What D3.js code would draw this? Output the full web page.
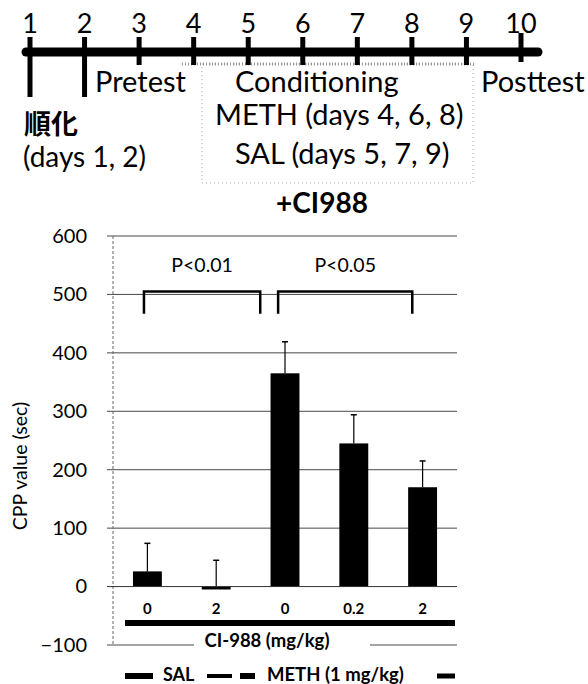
<!DOCTYPE html>
<html>
<head>
<meta charset="utf-8">
<script src="https://cdn.jsdelivr.net/npm/d3@7"></script>
<style>
  body { margin: 0; background: #fff; }
  svg { display: block; font-family: Lato, "Open Sans", sans-serif; }
</style>
</head>
<body>
<svg id="chart"></svg>
<script>
const W = 588, H = 684;

// Timeline data
const days = [1, 2, 3, 4, 5, 6, 7, 8, 9, 10];
const longTickDays = [1, 2];
const phaseLabels = ["Pretest", "Conditioning", "Posttest"];
const scheduleLabels = ["METH (days 4, 6, 8)", "SAL (days 5, 7, 9)"];
const habituation = ["順化", "(days 1, 2)"];

// Bar chart data
const title = "+CI988";
const doses = ["0", "2", "0", "0.2", "2"];
const groups = ["SAL", "SAL", "METH", "METH", "METH"];
const cppMean = [26, -5, 365, 245, 170];
const cppSem = [48, 50, 54, 49, 45];
const yTicks = [-100, 0, 100, 200, 300, 400, 500, 600];
const sigLabels = ["P<0.01", "P<0.05"];
const sigFrom = [-0.05, 1.9];   // bracket start, in category units
const sigTo = [1.64, 3.85];     // bracket end, in category units
const sigTop = 505, sigLeg = 467;

const svg = d3.select("#chart").attr("width", W).attr("height", H);

// ---------- Timeline ----------
const tx = d3.scaleLinear().domain([1, 10]).range([30, 521]);
const lineY = 52;
const tl = svg.append("g");

// faint dotted box around the conditioning block
tl.append("rect")
    .attr("x", 202).attr("y", 64).attr("width", 271).attr("height", 119)
    .attr("fill", "none").attr("stroke", "#aaa")
    .attr("stroke-width", 1).attr("stroke-dasharray", "1,3");
tl.append("line")
    .attr("x1", 182).attr("x2", 476).attr("y1", 64).attr("y2", 64)
    .attr("stroke", "#999").attr("stroke-width", 3).attr("stroke-dasharray", "1,2");

tl.append("line")
    .attr("x1", tx(1) - 4).attr("x2", 538)
    .attr("y1", lineY).attr("y2", lineY)
    .attr("stroke", "#000").attr("stroke-width", 9).attr("stroke-linecap", "round");

tl.selectAll(".dtick").data(days).join("line")
    .attr("x1", d => tx(d)).attr("x2", d => tx(d))
    .attr("y1", d => d === 10 ? 33 : 37)
    .attr("y2", d => longTickDays.includes(d) ? 97 : (d === 10 ? 62 : 65))
    .attr("stroke", "#000").attr("stroke-width", 5);

tl.selectAll(".dlab").data(days).join("text")
    .attr("x", d => tx(d)).attr("y", 33)
    .attr("text-anchor", "middle")
    .attr("font-size", 27)
    .text(d => d);

const phaseX = [95, 235, 481];
tl.selectAll(".phase").data(phaseLabels).join("text")
    .attr("x", (d, i) => phaseX[i]).attr("y", 92)
    .attr("font-size", 29)
    .text(d => d);

tl.selectAll(".sched").data(scheduleLabels).join("text")
    .attr("x", (d, i) => [215, 235][i]).attr("y", (d, i) => [125, 164][i])
    .attr("font-size", 29)
    .text(d => d);

tl.append("text").attr("x", 24).attr("y", 134)
    .attr("font-family", "'Noto Sans CJK JP'").attr("font-weight", "bold")
    .attr("font-size", 27).text(habituation[0]);
tl.append("text").attr("x", 23).attr("y", 167)
    .attr("font-size", 28).text(habituation[1]);

// ---------- Bar chart ----------
const x = d3.scaleBand().domain(d3.range(doses.length)).range([113, 457])
    .paddingInner(0.58).paddingOuter(0.29);
const xc = d3.scaleLinear().domain([-0.5, doses.length - 0.5]).range([113, 457]);
const y = d3.scaleLinear().domain([-100, 600]).range([645, 236]);
const ch = svg.append("g");

ch.append("text").attr("x", 322).attr("y", 213)
    .attr("text-anchor", "middle").attr("font-weight", "bold")
    .attr("font-size", 28).text(title);

// gridlines
ch.selectAll(".grid").data(yTicks.filter(d => d !== 0)).join("line")
    .attr("x1", 107).attr("x2", 457)
    .attr("y1", d => y(d)).attr("y2", d => y(d))
    .attr("stroke", "#333").attr("stroke-width", 0.9);

// left axis (dashed)
ch.append("line")
    .attr("x1", 113).attr("x2", 113).attr("y1", y(600)).attr("y2", y(-100))
    .attr("stroke", "#666").attr("stroke-width", 1).attr("stroke-dasharray", "3,2");

const yAxis = ch.append("g").attr("transform", "translate(113,0)")
    .call(d3.axisLeft(y).tickValues(yTicks).tickSize(0).tickPadding(26));
yAxis.select(".domain").remove();
yAxis.selectAll("text").attr("font-size", 20).attr("fill", "#000")
    .attr("font-family", "Lato, sans-serif");

ch.append("text")
    .attr("transform", "translate(27,466) rotate(-90)")
    .attr("text-anchor", "middle").attr("font-size", 19.5)
    .text("CPP value (sec)");

// bars
ch.selectAll(".bar").data(cppMean).join("rect")
    .attr("x", (d, i) => x(i)).attr("width", x.bandwidth())
    .attr("y", d => y(Math.max(0, d)))
    .attr("height", d => Math.abs(y(d) - y(0)))
    .attr("fill", "#000");

// error bars (upward only)
ch.selectAll(".err").data(cppMean).join("line")
    .attr("x1", (d, i) => x(i) + x.bandwidth() / 2).attr("x2", (d, i) => x(i) + x.bandwidth() / 2)
    .attr("y1", d => y(Math.max(0, d)))
    .attr("y2", (d, i) => y(d + cppSem[i]))
    .attr("stroke", "#000").attr("stroke-width", 1.2);
ch.selectAll(".cap").data(cppMean).join("line")
    .attr("x1", (d, i) => x(i) + x.bandwidth() / 2 - 3).attr("x2", (d, i) => x(i) + x.bandwidth() / 2 + 3)
    .attr("y1", (d, i) => y(d + cppSem[i]))
    .attr("y2", (d, i) => y(d + cppSem[i]))
    .attr("stroke", "#000").attr("stroke-width", 1.5);

// zero line
ch.append("line")
    .attr("x1", 107).attr("x2", 457).attr("y1", y(0)).attr("y2", y(0))
    .attr("stroke", "#333").attr("stroke-width", 1);

// category labels
const xAxis = ch.append("g").attr("transform", `translate(0,${y(0)})`)
    .call(d3.axisBottom(x).tickSize(0).tickPadding(17).tickFormat(i => doses[i]));
xAxis.select(".domain").remove();
xAxis.selectAll("text").attr("font-size", 15).attr("font-weight", "bold")
    .attr("fill", "#000").attr("font-family", "Lato, sans-serif");

// dose bar and axis title
ch.append("line")
    .attr("x1", 125).attr("x2", 455).attr("y1", 623).attr("y2", 623)
    .attr("stroke", "#000").attr("stroke-width", 6);
ch.append("rect").attr("x", 194).attr("y", 630).attr("width", 176).attr("height", 22).attr("fill", "#fff");
ch.append("text").attr("x", 267).attr("y", 647)
    .attr("text-anchor", "middle").attr("font-weight", "bold").attr("font-size", 18.5)
    .text("CI-988 (mg/kg)");

// significance brackets
sigLabels.forEach((lab, k) => {
    const xa = xc(sigFrom[k]), xb = xc(sigTo[k]);
    ch.append("path")
        .attr("d", `M${xa},${y(sigLeg)}V${y(sigTop)}H${xb}V${y(sigLeg)}`)
        .attr("fill", "none").attr("stroke", "#000").attr("stroke-width", 2.5);
    ch.append("text")
        .attr("x", (xa + xb) / 2).attr("y", 272)
        .attr("text-anchor", "middle").attr("font-size", 19.5)
        .text(lab);
});

// legend
const legY = 681;
const lg = ch.append("g");
const swatches = [[125, 153, 6], [207, 232, 4], [240, 255, 6], [437, 455, 5]];
lg.selectAll("line").data(swatches).join("line")
    .attr("x1", d => d[0]).attr("x2", d => d[1])
    .attr("y1", legY - 5).attr("y2", legY - 5)
    .attr("stroke", "#000").attr("stroke-width", d => d[2]);
lg.append("text").attr("x", 163).attr("y", legY)
    .attr("font-weight", "bold").attr("font-size", 18).text(groups[0]);
lg.append("text").attr("x", 267).attr("y", legY)
    .attr("font-weight", "bold").attr("font-size", 18.5).text(groups[2] + " (1 mg/kg)");
</script>
</body>
</html>
